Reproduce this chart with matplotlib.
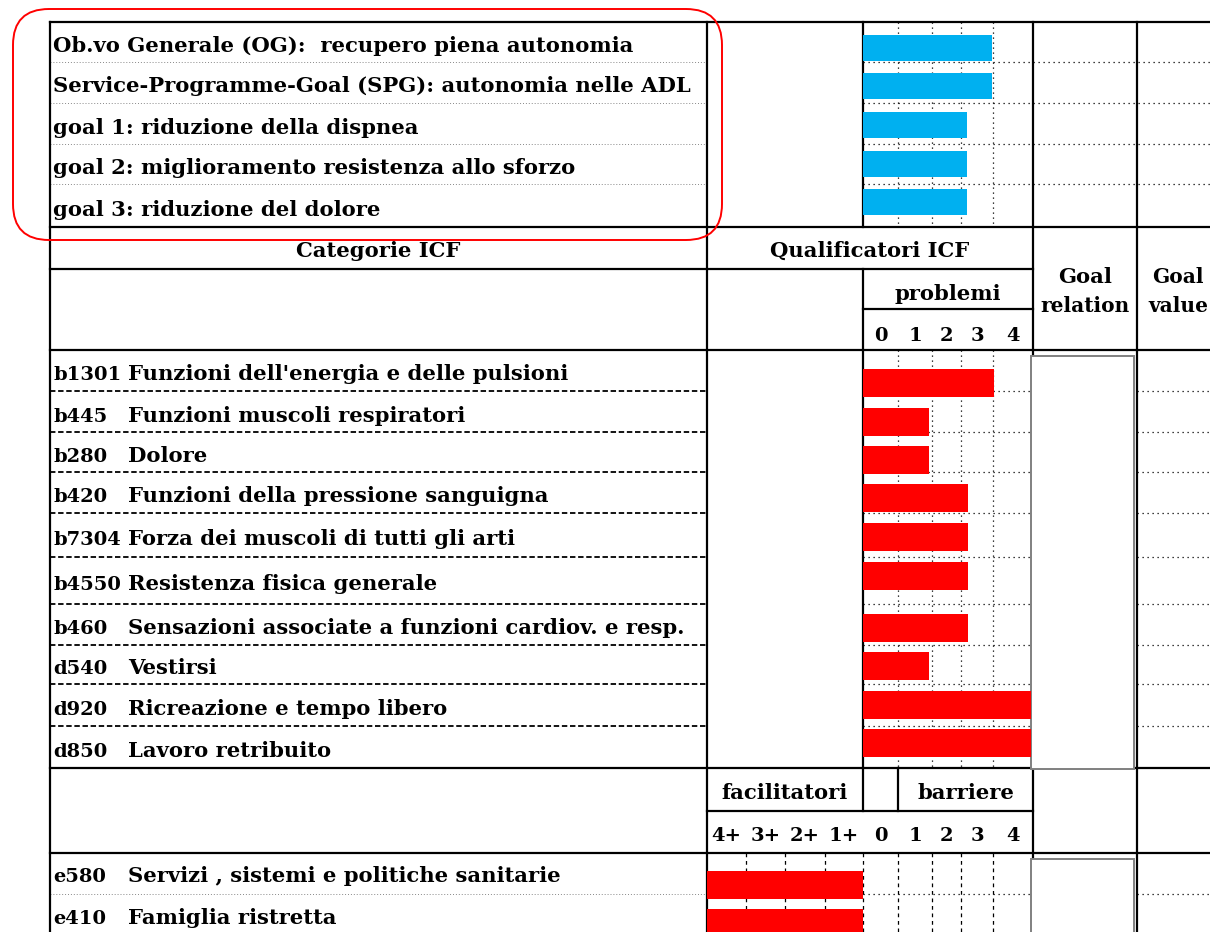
import matplotlib
matplotlib.use("Agg")
import matplotlib.pyplot as plt
from matplotlib.patches import FancyBboxPatch, Rectangle

W, H = 1210, 932

# ---- data ----
goal_labels = ["Ob.vo Generale (OG):  recupero piena autonomia",
               "Service-Programme-Goal (SPG): autonomia nelle ADL",
               "goal 1: riduzione della dispnea",
               "goal 2: miglioramento resistenza allo sforzo",
               "goal 3: riduzione del dolore"]
goal_values = [76, 76, 61, 61, 61]

icf_codes = ["b1301", "b445", "b280", "b420", "b7304", "b4550", "b460",
             "d540", "d920", "d850"]
icf_names = ["Funzioni dell'energia e delle pulsioni",
             "Funzioni muscoli respiratori",
             "Dolore",
             "Funzioni della pressione sanguigna",
             "Forza dei muscoli di tutti gli arti",
             "Resistenza fisica generale",
             "Sensazioni associate a funzioni cardiov. e resp.",
             "Vestirsi",
             "Ricreazione e tempo libero",
             "Lavoro retribuito"]
icf_values = [77, 39, 39, 62, 62, 62, 62, 39, 99, 99]

env_codes = ["e580", "e410"]
env_names = ["Servizi , sistemi e politiche sanitarie", "Famiglia ristretta"]
env_values = [-100, -100]   # facilitatori 4+

problem_ticks = ["0", "1", "2", "3", "4"]
env_ticks = ["4+", "3+", "2+", "1+", "0", "1", "2", "3", "4"]

# ---- layout (pixels) ----
XL, XC, XB0, XB1, XGV = 50, 707, 863, 1033, 1137
grid_x = [898, 932, 961, 993]
fac_x = [746, 785, 825]
top_rows = [22, 62, 103, 144, 184, 227]
body_rows = [350, 391, 432, 472, 513, 557, 604, 645, 684, 726, 768]
env_rows = [853, 894, 935]
top_bar_y = [48, 86, 125, 164, 202]
body_bar_y = [383, 421.5, 460, 498, 537, 576, 627.5, 666, 705, 743]
env_bar_y = [885, 923]

FONT = "DejaVu Serif"
FS = 15.2
BLUE = "#00B0F0"
RED = "#FF0000"

fig = plt.figure(figsize=(W / 100, H / 100), dpi=100)
ax = fig.add_axes([0, 0, 1, 1])
ax.set_xlim(0, W)
ax.set_ylim(H, 0)
ax.axis("off")


def txt(x, y, s, ha="left", size=FS, va="baseline"):
    ax.text(x, y, s, ha=ha, va=va, fontsize=size, fontweight="bold",
            family=FONT, color="black")


def hl(y, x0, x1, **kw):
    ax.plot([x0, x1], [y, y], **kw)


def vl(x, y0, y1, **kw):
    ax.plot([x, x], [y0, y1], **kw)


thick = dict(color="black", lw=1.6, solid_capstyle="projecting")
dot = dict(color="black", lw=0.9, ls=(0, (1, 3)))
fine = dict(color="#888888", lw=0.7, ls=(0, (1, 2)))
dash = dict(color="black", lw=1.3, ls=(0, (3, 1.5)))
vdash = dict(color="black", lw=0.9, ls=(0, (3, 3)))

# ---- cell borders (spreadsheet grid) ----
for y in top_rows[1:-1]:
    hl(y, XL, XC, **fine)
    hl(y, XB0, W, **dot)
for y in body_rows[1:-1]:
    hl(y, XL, XC, **dash)
    hl(y, XB0, XB1, **dot)
    hl(y, XGV, W, **dot)
for y in env_rows[1:-1]:
    hl(y, XL, XC, **fine)
    hl(y, XB0, XB1, **dot)
    hl(y, XGV, W, **dot)

for x in grid_x:
    vl(x, top_rows[0], top_rows[-1], **dot)
    vl(x, body_rows[0], body_rows[-1], **dot)
for x in fac_x + [XB0] + grid_x:
    vl(x, env_rows[0], H, **vdash)

# thick borders
for y in [22, 227, 350, 768, 853]:
    hl(y, XL, W, **thick)
hl(269, XL, XB1, **thick)
hl(309, XB0, XB1, **thick)
hl(811, XC, XB1, **thick)
vl(XL, 22, H, **thick)
vl(XC, 22, H, **thick)
vl(XB0, 22, 227, **thick)
vl(XB0, 269, 768, **thick)
vl(XB0, 768, 811, **thick)
vl(898, 768, 811, **thick)
vl(XB1, 22, 356, **thick)
vl(XB1, 768, 858, **thick)
vl(XGV, 22, H, **thick)

# goal relation boxes
for y0, y1 in [(356, 769), (859, H + 10)]:
    ax.add_patch(Rectangle((1031, y0), 103, y1 - y0, facecolor="white",
                           edgecolor="#808080", lw=1.4, zorder=3))

# ---- texts ----
for i, s in enumerate(goal_labels):
    txt(53, (top_rows[i] + top_rows[i + 1]) / 2 + 10, s)
for i in range(len(icf_codes)):
    yb = (body_rows[i] + body_rows[i + 1]) / 2 + 10
    txt(53, yb, icf_codes[i], size=14)
    txt(128, yb, icf_names[i])
for i in range(len(env_codes)):
    yb = (env_rows[i] + env_rows[i + 1]) / 2 + 9
    txt(53, yb, env_codes[i], size=14)
    txt(128, yb, env_names[i])

txt((XL + XC) / 2, 257, "Categorie ICF", ha="center")
txt((XC + XB1) / 2, 257, "Qualificatori ICF", ha="center")
txt((XB0 + XB1) / 2, 300, "problemi", ha="center")
txt((XB1 + XGV) / 2, 283, "Goal", ha="center")
txt((XB1 + XGV) / 2, 312, "relation", ha="center", size=14.5)
txt(1178, 283, "Goal", ha="center", size=14.5)
txt(1178, 312, "value", ha="center", size=14.5)
txt((XC + XB0) / 2, 799, "facilitatori", ha="center")
txt((898 + XB1) / 2, 799, "barriere", ha="center")

prob_edges = [XB0] + grid_x + [XB1]
for i, s in enumerate(problem_ticks):
    txt((prob_edges[i] + prob_edges[i + 1]) / 2, 341, s, ha="center", size=14)
env_edges = [XC] + fac_x + prob_edges
for i, s in enumerate(env_ticks):
    txt((env_edges[i] + env_edges[i + 1]) / 2, 841, s, ha="center", size=14)

# ---- bars ----
def px_axes(x0, y0, x1, y1, xlim):
    a = fig.add_axes([x0 / W, 1 - y1 / H, (x1 - x0) / W, (y1 - y0) / H])
    a.set_xlim(*xlim)
    a.set_ylim(y1, y0)
    a.axis("off")
    a.patch.set_alpha(0)
    return a


bt = px_axes(XB0, top_rows[0], XB1, top_rows[-1], (0, 100))
bt.barh(top_bar_y, goal_values, height=26, color=BLUE)

bb = px_axes(XB0, body_rows[0], XB1, body_rows[-1], (0, 100))
bb.barh(body_bar_y, icf_values, height=28, color=RED)

be = px_axes(XC, env_rows[0], XB0, H, (-100, 0))
be.barh(env_bar_y, env_values, height=28, color=RED)

# ---- red highlight ----
ax.add_patch(FancyBboxPatch((13, 9), 709, 231,
                            boxstyle="round,pad=0,rounding_size=36",
                            facecolor="none", edgecolor=RED, lw=1.4,
                            zorder=5))

fig.savefig("out.png", dpi=100)
